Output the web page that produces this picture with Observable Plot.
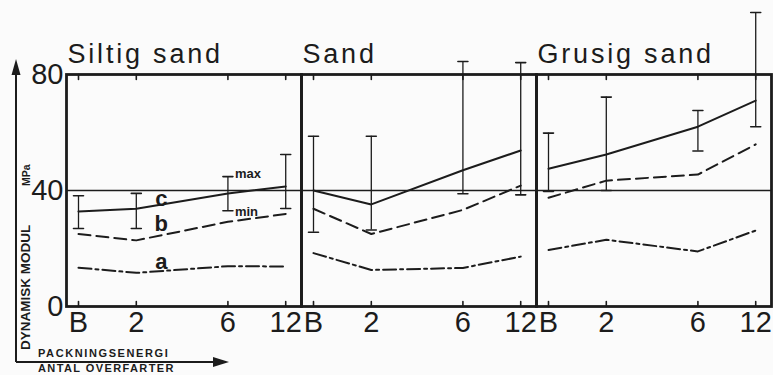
<!DOCTYPE html>
<html>
<head>
<meta charset="utf-8">
<script src="https://cdn.jsdelivr.net/npm/d3@7"></script>
<script src="https://cdn.jsdelivr.net/npm/@observablehq/plot@0.6"></script>
<style>
  html, body { margin: 0; padding: 0; background: #fbfbfb; }
  #chart { width: 773px; height: 375px; overflow: hidden; }
</style>
</head>
<body>
<div id="chart"></div>
<script>
// ---- data ----
const soils = ["Siltig sand", "Sand", "Grusig sand"];
const passes = [1, 2, 6, 12];            // "B" = base (1)
const passLabels = ["B", "2", "6", "12"];
const yTicks = [0, 40, 80];

// series per soil (rows follow soils, columns follow passes)
const lineA = [[13.4, 11.6, 13.9, 13.8], [18.4, 12.6, 13.3, 17.2], [19.5, 23.0, 19.0, 26.2]];
const lineB = [[25.0, 22.8, 29.2, 31.9], [33.7, 25.0, 33.3, 41.7], [37.5, 43.4, 45.5, 55.9]];
const lineC = [[32.8, 33.7, 39.0, 41.4], [40.0, 35.2, 47.0, 53.8], [47.5, 52.4, 62.0, 71.0]];
const cMin  = [[26.9, 26.9, 33.0, 33.8], [25.6, 26.4, 38.9, 38.5], [39.7, 40.0, 53.6, 62.0]];
const cMax  = [[38.2, 39.0, 44.8, 52.4], [58.7, 58.7, 84.5, 84.1], [59.8, 72.2, 67.6, 101.4]];

const seriesNames = ["a", "b", "c"];
const seriesLabelX = [2.7, 2.7, 2.7];
const seriesLabelY = [15.2, 28.3, 37.2];

// ---- table built from the arrays ----
const rows = [];
soils.forEach((soil, i) => passes.forEach((p, j) => rows.push({
  soil, pass: p, a: lineA[i][j], b: lineB[i][j], c: lineC[i][j], lo: cMin[i][j], hi: cMax[i][j]
})));
const labels = seriesNames.map((s, k) => ({soil: soils[0], text: s, x: seriesLabelX[k], y: seriesLabelY[k]}));
const maxMin = rows.filter(d => d.soil === soils[0] && d.pass === 6);
const tickRows = soils.flatMap(soil => passes.map(p => ({soil, pass: p})));

const ink = "#1c1c1c";
const font = "Liberation Sans, Arial, Helvetica, sans-serif";

const chart = Plot.plot({
  width: 773,
  height: 375,
  marginTop: 74,
  marginBottom: 69,
  marginLeft: 66,
  marginRight: 2,
  style: {fontFamily: font, background: "#fbfbfb", color: ink, overflow: "visible"},
  fx: {domain: soils, padding: 0, axis: null},
  x: {type: "log", domain: [0.866, 14.5]},
  y: {domain: [0, 80]},
  marks: [
    Plot.ruleY([40], {stroke: ink, strokeWidth: 1.6}),
    // inward tick marks on bottom and top edges
    Plot.vector(tickRows, {fx: "soil", x: "pass", y: 0, length: 5, rotate: 0, anchor: "start", r: 0, stroke: ink, strokeWidth: 1.6}),
    Plot.vector(tickRows, {fx: "soil", x: "pass", y: 80, length: 5, rotate: 180, anchor: "start", r: 0, stroke: ink, strokeWidth: 1.6}),
    // series
    Plot.line(rows, {fx: "soil", x: "pass", y: "a", stroke: ink, strokeWidth: 2, strokeDasharray: "13,4,3,4"}),
    Plot.line(rows, {fx: "soil", x: "pass", y: "b", stroke: ink, strokeWidth: 2, strokeDasharray: "12,6"}),
    Plot.line(rows, {fx: "soil", x: "pass", y: "c", stroke: ink, strokeWidth: 2}),
    // min–max bars on c
    Plot.ruleX(rows, {fx: "soil", x: "pass", y1: "lo", y2: "hi", stroke: ink, strokeWidth: 1.3}),
    Plot.vector(rows, {fx: "soil", x: "pass", y: "lo", length: 10, rotate: 90, anchor: "middle", r: 0, stroke: ink, strokeWidth: 1.6}),
    Plot.vector(rows, {fx: "soil", x: "pass", y: "hi", length: 10, rotate: 90, anchor: "middle", r: 0, stroke: ink, strokeWidth: 1.6}),
    Plot.frame({stroke: ink, strokeWidth: 2.8}),
    // annotations
    Plot.text(labels, {fx: "soil", x: "x", y: "y", text: "text", fontSize: 22, fontWeight: "bold", fill: ink}),
    Plot.text(maxMin, {fx: "soil", x: "pass", y: "hi", text: () => "max", dx: 7, dy: -3, textAnchor: "start", fontSize: 13, fontWeight: "bold", fill: ink}),
    Plot.text(maxMin, {fx: "soil", x: "pass", y: "lo", text: () => "min", dx: 7, dy: 1, textAnchor: "start", fontSize: 13, fontWeight: "bold", fill: ink}),
    Plot.text(soils, {fx: d => d, text: d => d, frameAnchor: "top-left", dx: 1, dy: -12, lineAnchor: "bottom", textAnchor: "start", fontSize: 27, fill: ink}),
    // axes
    Plot.axisY({ticks: yTicks, tickSize: 0, tickPadding: 3, fontSize: 29, tickFormat: d => String(d), fill: ink}),
    Plot.axisX({ticks: passes, tickSize: 0, tickPadding: 5, fontSize: 29, tickFormat: d => passLabels[passes.indexOf(d)], fill: ink})
  ]
});

document.getElementById("chart").appendChild(chart);

const svg = d3.select(chart);
// widen the panel titles like the reference lettering
svg.selectAll("text").filter(function() { return soils.includes(this.textContent); })
  .style("letter-spacing", "2.8px");

// outer axis arrows and axis titles (decoration outside the frames)
const g = svg.append("g").attr("fill", ink).attr("stroke", ink);
g.append("path").attr("d", "M16,362V72").attr("stroke-width", 2).attr("fill", "none");
g.append("path").attr("d", "M16,362H215").attr("stroke-width", 2).attr("fill", "none");
g.append("path").attr("d", "M16,59L11.5,75L20.5,75Z").attr("stroke", "none");
g.append("path").attr("d", "M229,362L213,357L213,367Z").attr("stroke", "none");

const t = svg.append("g").attr("fill", ink).attr("font-family", font).attr("font-weight", "bold").attr("text-anchor", "start");
t.append("text").attr("transform", "translate(30,350) rotate(-90)").attr("font-size", 13.5).text("DYNAMISK MODUL");
t.append("text").attr("transform", "translate(30,186) rotate(-90)").attr("font-size", 10.5).text("MPa");
t.append("text").attr("x", 38).attr("y", 357).attr("font-size", 11).style("letter-spacing", "1.6px").text("PACKNINGSENERGI");
t.append("text").attr("x", 38).attr("y", 372).attr("font-size", 11).style("letter-spacing", "1.4px").text("ANTAL ÖVERFARTER");
</script>
</body>
</html>
